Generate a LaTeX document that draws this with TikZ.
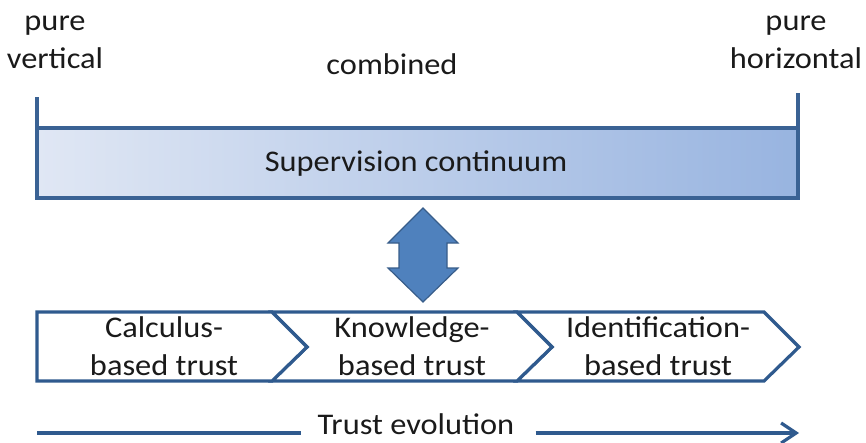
\documentclass[tikz,border=0pt]{standalone}
\usepackage{fontspec}
\setmainfont{Carlito}[FakeStretch=1.08]
\usetikzlibrary{arrows.meta}
\definecolor{barline}{HTML}{3A6294}
\definecolor{barleft}{HTML}{E0E7F4}
\definecolor{barright}{HTML}{98B4E0}
\definecolor{arrfill}{HTML}{4F81BD}
\definecolor{arrline}{HTML}{385D8A}
\definecolor{chevline}{HTML}{2F5A8E}
\definecolor{txt}{HTML}{1A1A1A}
\tikzset{
  lbl/.style={font=\fontsize{30}{38}\selectfont, text=txt, align=center, inner sep=0pt},
  chev/.style={draw=chevline, line width=3.2pt, fill=white, line join=miter},
  barbox/.style={draw=barline, line width=3.2pt, left color=barleft, right color=barright, inner sep=0pt},
  tick/.style={draw=barline, line width=3.2pt},
  evol/.style={draw=chevline, line width=3.2pt},
}
\begin{document}
\begin{tikzpicture}[x=1pt,y=-1pt]
\useasboundingbox (0,0) rectangle (866,442);
% top labels
\node[lbl] (pv) at (55,42) {pure\\vertical};
\node[lbl] (cb) at (392,64) {combined};
\node[lbl] (ph) at (796,42) {pure\\horizontal};
% bar
\path[barbox] (37,128) rectangle (798,198);
\node[lbl] (sc) at (416,164) {Supervision continuum};
\coordinate (tl) at (37,97);
\coordinate (tlb) at (37,128);
\coordinate (tr) at (798,93);
\coordinate (trb) at (798,128);
\draw[tick] (tl) -- (tlb);
\draw[tick] (tr) -- (trb);
% double arrow
\draw[fill=arrfill, draw=arrline, line width=1.2pt, line join=miter]
  (423,208) -- (458,243) -- (447,243) -- (447,268) -- (458,268) -- (423,302)
  -- (388,268) -- (399,268) -- (399,243) -- (388,243) -- cycle;
% chevrons
\path[chev] (517,312) -- (764,312) -- (799,347) -- (764,381) -- (517,381) -- (552,347) -- cycle;
\path[chev] (272,312) -- (517,312) -- (552,347) -- (517,381) -- (272,381) -- (307,347) -- cycle;
\path[chev] (37,312) -- (272,312) -- (307,347) -- (272,381) -- (37,381) -- cycle;
\node[lbl] (c1) at (164,346) {Calculus-\\based trust};
\node[lbl] (c2) at (412,346) {Knowledge-\\based trust};
\node[lbl] (c3) at (658,346) {Identification-\\based trust};
% trust evolution
\node[lbl] (te) at (416,424) {Trust evolution};
\coordinate (es) at (37,433);
\coordinate (ee) at (799,433);
\draw[evol] (es) -- ([xshift=-17pt]te.west |- es);
\draw[evol, -{Straight Barb[length=15pt,width=20pt]}] ([xshift=21pt]te.east |- ee) -- (ee);
\end{tikzpicture}
\end{document}
